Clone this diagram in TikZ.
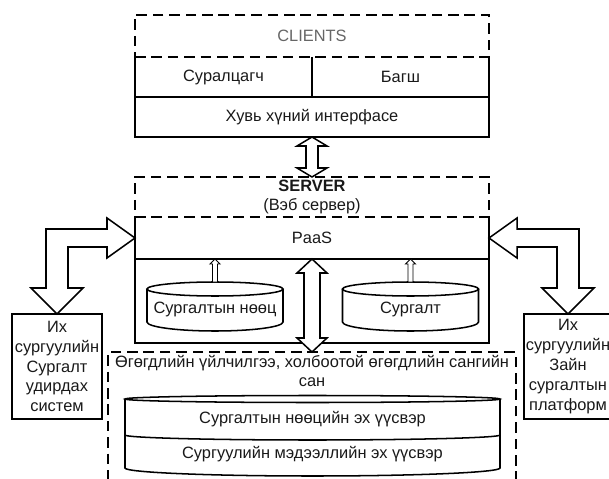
\documentclass[tikz,border=0pt]{standalone}
\usepackage{fontspec}
\setmainfont{Liberation Sans}
\usetikzlibrary{calc}

\tikzset{
  txt/.style={inner sep=0pt, outer sep=0pt, align=center, text=black!90,
    font=\fontsize{14}{17}\selectfont},
  line/.style={line width=1.3pt},
  dashbox/.style={txt, draw, line width=1.5pt, dash pattern=on 9pt off 5pt},
  sidebox/.style={txt, draw, line width=1.3pt, minimum width=2.7cm, minimum height=3.15cm},
  hollow/.style={draw, line width=1.3pt, fill=white, line join=miter},
  thinarrow/.style={draw, line width=0.8pt, fill=white},
}

\begin{document}
\begin{tikzpicture}[x=0.03cm, y=0.03cm]
\useasboundingbox (0,0) rectangle (609,-479);
\clip (0,0) rectangle (609,-479);

% clients
\node[txt, minimum width=5.31cm, minimum height=1.2cm] (student) at (223.5,-77) {Суралцагч};
\node[txt, minimum width=5.31cm, minimum height=1.2cm] (teacher) at (400.5,-77) {Багш};
\node[txt, minimum width=10.62cm, minimum height=1.2cm] (ui) at (312,-117) {Хувь хүний интерфасе};
\draw[line] (student.north west) -- (ui.south west) -- (ui.south east) -- (teacher.north east);
\draw[line] (ui.north west) -- (ui.north east);
\draw[line] (student.north east) -- (student.south east);
\node[dashbox, text=black!60, minimum width=10.62cm, minimum height=1.26cm] (clients) at (312,-36) {CLIENTS};

% server
\node[txt, minimum width=10.62cm, minimum height=1.26cm] (paas) at (312,-238) {PaaS};
\node[txt, minimum width=10.62cm, minimum height=2.52cm] (core) at (312,-301) {};
\draw[line] (paas.north west) -- (core.south west) -- (core.south east) -- (paas.north east);
\draw[line] (paas.south west) -- (paas.south east);
\node[dashbox, minimum width=10.62cm, minimum height=1.2cm] (server) at (312,-197)
  {\textbf{SERVER}\\(Вэб сервер)};

% cylinders in the server
\draw[line] (215,-289) ellipse [x radius=68, y radius=7];
\draw[line] (147,-289) -- (147,-322) arc [start angle=180, end angle=360, x radius=68, y radius=9] -- (283,-289);
\draw[line] (410.5,-289) ellipse [x radius=68, y radius=7];
\draw[line] (342.5,-289) -- (342.5,-322) arc [start angle=180, end angle=360, x radius=68, y radius=9] -- (478.5,-289);
\node[txt] (res) at (215,-309) {Сургалтын нөөц};
\node[txt] (course) at (410.5,-309) {Сургалт};
\coordinate (restop) at (215,-282);
\coordinate (coursetop) at (410.5,-282);

% data
\node[dashbox, minimum width=12.24cm, minimum height=3.96cm] (data) at (312,-418) {};
\node[txt] (datalbl) at (312,-371) {Өгөгдлийн үйлчилгээ, холбоотой өгөгдлийн сангийн\\сан};
\draw[line] (312.5,-399) ellipse [x radius=187.5, y radius=3.5];
\draw[line] (125,-399) -- (125,-468) arc [start angle=180, end angle=360, x radius=187.5, y radius=8] -- (500,-399);
\draw[line] (125,-435) arc [start angle=180, end angle=360, x radius=187.5, y radius=5];
\node[txt] (srcres) at (312.5,-419) {Сургалтын нөөцийн эх үүсвэр};
\node[txt] (srcschool) at (312.5,-454) {Сургуулийн мэдээллийн эх үүсвэр};

% side systems
\node[sidebox] (lms) at (57,-366.5) {Их\\сургуулийн\\Сургалт\\удирдах\\систем};
\node[sidebox, minimum width=2.64cm] (zain) at (568,-366.5) {Их\\сургуулийн\\Зайн\\сургалтын\\платформ};

% arrows
\draw[hollow] (ui.south) -- ++(15,-9) -- ++(-9,0) -- ++(0,-22) -- ++(9,0) -- (server.north)
  -- ++(-15,9) -- ++(9,0) -- ++(0,22) -- ++(-9,0) -- cycle;
\draw[hollow] (paas.south) -- ++(15,-14) -- ++(-7,0) -- ++(0,-65) -- ++(7,0) -- (data.north)
  -- ++(-15,14) -- ++(7,0) -- ++(0,65) -- ++(-7,0) -- cycle;
\draw[thinarrow] (restop |- paas.south) -- ++(5,-5) -- ++(-2.5,0) -- ++(0,-18) -- ++(-5,0) -- ++(0,18) -- ++(-2.5,0) -- cycle;
\draw[thinarrow] (coursetop |- paas.south) -- ++(5,-5) -- ++(-2.5,0) -- ++(0,-18) -- ++(-5,0) -- ++(0,18) -- ++(-2.5,0) -- cycle;
\draw[hollow] (paas.west) -- ++(-28,20) -- ++(0,-11) -| ($(lms.north)+(-11,26)$) -- ++(-15,0) -- (lms.north)
  -- ++(26,26) -- ++(-15,0) |- ($(paas.west)+(-28,-9)$) -- ++(0,-11) -- cycle;
\draw[hollow] (paas.east) -- ++(28,20) -- ++(0,-11) -| ($(zain.north)+(11,26)$) -- ++(15,0) -- (zain.north)
  -- ++(-26,26) -- ++(15,0) |- ($(paas.east)+(28,-9)$) -- ++(0,-11) -- cycle;
\end{tikzpicture}
\end{document}
